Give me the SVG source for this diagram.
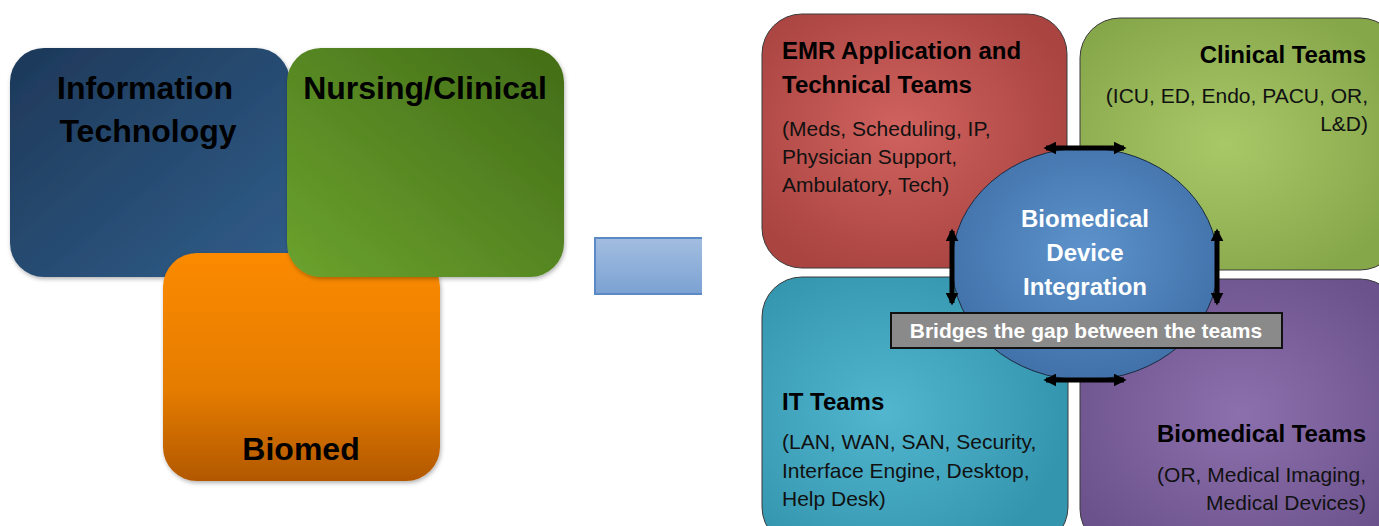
<svg xmlns="http://www.w3.org/2000/svg" width="1379" height="526" viewBox="0 0 1379 526">
<defs>
<linearGradient id="gBlue" x1="0" y1="0" x2="1" y2="1"><stop offset="0" stop-color="#1d3858"/><stop offset="1" stop-color="#315d8a"/></linearGradient>
<linearGradient id="gGreen" x1="1" y1="0" x2="0" y2="1"><stop offset="0" stop-color="#426c17"/><stop offset="1" stop-color="#6ba22e"/></linearGradient>
<linearGradient id="gOrange" x1="0" y1="0" x2="0" y2="1"><stop offset="0" stop-color="#fb8a00"/><stop offset="0.6" stop-color="#e57c00"/><stop offset="1" stop-color="#b25800"/></linearGradient>
<linearGradient id="gArrow" x1="0" y1="0" x2="0" y2="1"><stop offset="0" stop-color="#a3bde0"/><stop offset="1" stop-color="#7ba2d3"/></linearGradient>
<radialGradient id="gRed" cx="0.45" cy="0.45" r="0.6"><stop offset="0" stop-color="#d0625e"/><stop offset="1" stop-color="#a94441"/></radialGradient>
<radialGradient id="gLime" cx="0.45" cy="0.5" r="0.6"><stop offset="0" stop-color="#a8c868"/><stop offset="1" stop-color="#86a64a"/></radialGradient>
<radialGradient id="gTeal" cx="0.4" cy="0.5" r="0.6"><stop offset="0" stop-color="#52b6cf"/><stop offset="1" stop-color="#3495ae"/></radialGradient>
<radialGradient id="gPurple" cx="0.5" cy="0.5" r="0.6"><stop offset="0" stop-color="#8c70ad"/><stop offset="1" stop-color="#6c528c"/></radialGradient>
<radialGradient id="gCircle" cx="0.5" cy="0.45" r="0.6"><stop offset="0" stop-color="#5d93cc"/><stop offset="1" stop-color="#3f6ea6"/></radialGradient>
<marker id="ah" viewBox="0 0 10 10" refX="8" refY="5" markerWidth="2.6" markerHeight="2.6" orient="auto-start-reverse"><path d="M0,0 L10,5 L0,10 z" fill="#000"/></marker>
<filter id="sh" x="-10%" y="-10%" width="120%" height="120%"><feDropShadow dx="1" dy="2" stdDeviation="2" flood-color="#000" flood-opacity="0.3"/></filter>
</defs>
<style>
.big{font-family:"Liberation Sans",Arial,sans-serif;font-weight:bold;font-size:32px;fill:#000}
.h{font-family:"Liberation Sans",Arial,sans-serif;font-weight:bold;font-size:24px;fill:#000}
.t{font-family:"Liberation Sans",Arial,sans-serif;font-size:21px;fill:#111}
.w{font-family:"Liberation Sans",Arial,sans-serif;font-weight:bold;font-size:24px;fill:#fff}
.b{font-family:"Liberation Sans",Arial,sans-serif;font-weight:bold;font-size:21px;fill:#fff}
.box{stroke:#3a3a3a;stroke-width:1}
.arr{stroke:#000;stroke-width:5;fill:none}
</style>
<rect width="1379" height="526" fill="#fff"/>

<g id="it">
<rect x="10" y="48" width="280" height="229" rx="34" fill="url(#gBlue)" filter="url(#sh)"/>
<text class="big" x="145" y="99" text-anchor="middle">Information</text>
<text class="big" x="148" y="142" text-anchor="middle">Technology</text>
</g>
<g id="biomed">
<rect x="163" y="253" width="277" height="228" rx="34" fill="url(#gOrange)" filter="url(#sh)"/>
<text class="big" x="301" y="460" text-anchor="middle">Biomed</text>
</g>
<g id="nursing">
<rect x="287" y="48" width="277" height="229" rx="34" fill="url(#gGreen)" filter="url(#sh)"/>
<text class="big" x="425" y="99" text-anchor="middle">Nursing/Clinical</text>
</g>
<g id="transition">
<path d="M702,238 L595,238 L595,294 L702,294" fill="url(#gArrow)" stroke="#5b8ac6" stroke-width="2"/>
</g>

<g id="emr">
<rect x="762" y="14" width="305" height="254" rx="40" fill="url(#gRed)" class="box"/>
<text class="h" x="782" y="59">EMR Application and</text>
<text class="h" x="782" y="93">Technical Teams</text>
<text class="t" x="782" y="136">(Meds, Scheduling, IP,</text>
<text class="t" x="782" y="164">Physician Support,</text>
<text class="t" x="782" y="192">Ambulatory, Tech)</text>
</g>
<g id="clinical">
<rect x="1080" y="18" width="320" height="252" rx="40" fill="url(#gLime)" class="box"/>
<text class="h" x="1366" y="63" text-anchor="end">Clinical Teams</text>
<text class="t" x="1368" y="103" text-anchor="end">(ICU, ED, Endo, PACU, OR,</text>
<text class="t" x="1368" y="131" text-anchor="end">L&amp;D)</text>
</g>
<g id="itteams">
<rect x="762" y="277" width="306" height="270" rx="40" fill="url(#gTeal)" class="box"/>
<text class="h" x="782" y="410">IT Teams</text>
<text class="t" x="782" y="449">(LAN, WAN, SAN, Security,</text>
<text class="t" x="782" y="478">Interface Engine, Desktop,</text>
<text class="t" x="782" y="506">Help Desk)</text>
</g>
<g id="biomedteams">
<rect x="1080" y="279" width="320" height="270" rx="40" fill="url(#gPurple)" class="box"/>
<text class="h" x="1366" y="442" text-anchor="end">Biomedical Teams</text>
<text class="t" x="1366" y="482" text-anchor="end">(OR, Medical Imaging,</text>
<text class="t" x="1366" y="510" text-anchor="end">Medical Devices)</text>
</g>
<g id="bdi">
<ellipse cx="1085" cy="264" rx="133" ry="116" fill="url(#gCircle)" stroke="#1a2a40" stroke-width="1"/>
<text class="w" x="1085" y="227" text-anchor="middle">Biomedical</text>
<text class="w" x="1085" y="261" text-anchor="middle">Device</text>
<text class="w" x="1085" y="295" text-anchor="middle">Integration</text>
</g>
<g id="connectors">
<line class="arr" x1="1046" y1="148" x2="1124" y2="148" marker-start="url(#ah)" marker-end="url(#ah)"/>
<line class="arr" x1="1046" y1="380" x2="1124" y2="380" marker-start="url(#ah)" marker-end="url(#ah)"/>
<line class="arr" x1="952" y1="231" x2="952" y2="303" marker-start="url(#ah)" marker-end="url(#ah)"/>
<line class="arr" x1="1217" y1="231" x2="1217" y2="303" marker-start="url(#ah)" marker-end="url(#ah)"/>
</g>
<g id="banner">
<rect x="891" y="313" width="391" height="35" fill="#8a8a8a" stroke="#111" stroke-width="2"/>
<text class="b" x="1086" y="338" text-anchor="middle">Bridges the gap between the teams</text>
</g>
</svg>
